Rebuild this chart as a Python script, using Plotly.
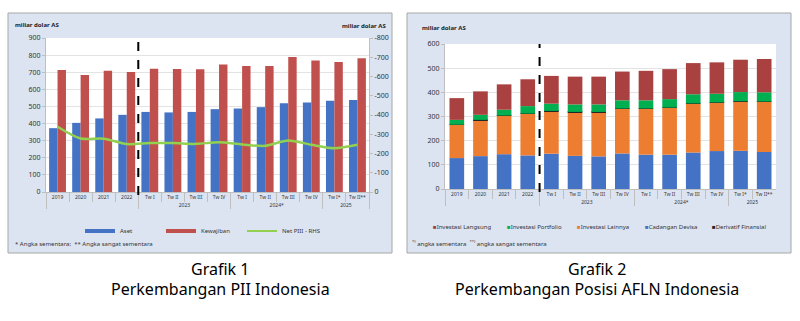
import plotly.graph_objects as go

# ---------------- data ----------------
groups = [" ", " ", " ", " ", "2023", "2023", "2023", "2023",
          "2024*", "2024*", "2024*", "2024*", "2025", "2025"]
periods = ["2019", "2020", "2021", "2022", "Tw I", "Tw II", "Tw III", "Tw IV",
           "Tw I", "Tw II", "Tw III", "Tw IV", "Tw I*", "Tw II**"]

# Grafik 1 (miliar dolar AS)
aset = [373, 404, 430, 451, 468, 465, 468, 484, 488, 496, 519, 523, 533, 537]
kewajiban = [713, 684, 708, 702, 721, 719, 717, 745, 737, 737, 789, 768, 760, 781]
net_pii = [-339, -278, -277, -249, -254, -254, -250, -258, -247, -240, -268, -245, -227, -245]

# Grafik 2 (miliar dolar AS) - components
cadangan_devisa = [128, 136, 144, 139, 146, 137, 135, 147, 142, 142, 151, 157, 158, 153]
investasi_lainnya = [137, 149, 159, 172, 175, 180, 182, 185, 190, 194, 202, 200, 204, 208]
derivatif_finansial = [1, 1, 1, 1, 2, 2, 2, 1, 1, 1, 1, 1, 1, 1]
investasi_portfolio = [20, 21, 24, 31, 30, 31, 31, 34, 34, 35, 38, 36, 38, 38]
investasi_langsung = [90, 97, 105, 111, 115, 115, 115, 119, 122, 124, 129, 130, 134, 138]

left_y_ticks = list(range(0, 1000, 100))
right_y_ticks = list(range(0, -900, -100))
right_y_text = ["0"] + ["-%d" % (-v) for v in right_y_ticks[1:]]
afln_y_ticks = list(range(0, 700, 100))
n_annual = 4  # dashed separator after annual observations

# ---------------- style ----------------
W, H = 800, 321
BLUE = "#4472C4"
RED = "#C0504D"
LGREEN = "#92D050"
DRED = "#A8413F"
GREEN = "#00B050"
ORANGE = "#ED7D31"
BLACK = "#262626"
PANEL = "#DCE4F2"
FONT = "Noto Sans"
TXT = "#333333"


def px(x):
    return x / W


def py(y):
    return 1 - y / H


x_mc = [groups, periods]

fig = go.Figure()

# ---- Grafik 1 ----
fig.add_trace(go.Bar(x=x_mc, y=aset, name="Aset", marker_color=BLUE,
                     width=0.365, offset=-0.365, showlegend=False,
                     xaxis="x", yaxis="y"))
fig.add_trace(go.Bar(x=x_mc, y=kewajiban, name="Kewajiban", marker_color=RED,
                     width=0.365, offset=0.0, showlegend=False,
                     xaxis="x", yaxis="y"))
fig.add_trace(go.Scatter(x=x_mc, y=net_pii, name="Net PIII - RHS", mode="lines",
                         line=dict(color=LGREEN, width=2.5, shape="spline", smoothing=0.8),
                         showlegend=False, xaxis="x", yaxis="y2"))
# legend entries (Excel-style line symbols)
for nm, col, w in [("Aset", BLUE, 4), ("Kewajiban", RED, 4), ("Net PIII - RHS", LGREEN, 2)]:
    fig.add_trace(go.Scatter(x=[None], y=[None], mode="lines", name=nm,
                             line=dict(color=col, width=w), legend="legend",
                             xaxis="x", yaxis="y", hoverinfo="skip"))

# ---- Grafik 2 (stacked via base) ----
stack = [
    ("Cadangan Devisa", cadangan_devisa, BLUE),
    ("Investasi Lainnya", investasi_lainnya, ORANGE),
    ("Derivatif Finansial", derivatif_finansial, BLACK),
    ("Investasi Portfolio", investasi_portfolio, GREEN),
    ("Investasi Langsung", investasi_langsung, DRED),
]
base = [0] * len(periods)
for nm, vals, col in stack:
    fig.add_trace(go.Bar(x=x_mc, y=vals, base=list(base), name=nm, marker_color=col,
                         width=0.62, offset=-0.31, showlegend=False,
                         xaxis="x3", yaxis="y3"))
    base = [b + v for b, v in zip(base, vals)]

axis_common = dict(linecolor="#BFBFBF", tickcolor="#BFBFBF", automargin=False)
xcat = dict(type="multicategory", showline=True, ticks="outside", ticklen=9,
            showdividers=True, dividercolor="#BFBFBF", dividerwidth=1, tickangle=0,
            tickfont=dict(family=FONT, size=5, color=TXT), showgrid=False,
            zeroline=False, **axis_common)

fig.update_layout(
    width=W, height=H,
    margin=dict(l=0, r=0, t=0, b=0),
    template="none",
    paper_bgcolor="white",
    plot_bgcolor="white",
    barmode="overlay",
    font=dict(family=FONT, color=TXT),
    xaxis=dict(domain=[px(46), px(369)], anchor="y", **xcat),
    yaxis=dict(domain=[py(192), py(38)], anchor="x", range=[0, 900],
               tickvals=left_y_ticks, showgrid=True, gridcolor="#E3E3E3",
               gridwidth=1, showline=True, ticks="outside", ticklen=3,
               zeroline=False, tickfont=dict(family=FONT, size=7, color=TXT),
               **axis_common),
    yaxis2=dict(overlaying="y", side="right", anchor="x", range=[0, -800],
                tickvals=right_y_ticks, ticktext=right_y_text, showgrid=False,
                showline=True, ticks="outside", ticklen=3, zeroline=False,
                tickfont=dict(family=FONT, size=7, color=TXT), **axis_common),
    xaxis3=dict(domain=[px(445), px(776)], anchor="y3", **xcat),
    yaxis3=dict(domain=[py(189), py(44)], anchor="x3", range=[0, 600],
                tickvals=afln_y_ticks, showgrid=True, gridcolor="#E3E3E3",
                showline=True, ticks="outside", ticklen=3, zeroline=False,
                tickfont=dict(family=FONT, size=7, color=TXT), **axis_common),
    legend=dict(orientation="h", x=px(80), y=py(231), xanchor="left", yanchor="middle",
                bgcolor="rgba(0,0,0,0)", font=dict(family=FONT, size=6, color=TXT),
                entrywidth=36, itemwidth=30, tracegroupgap=0),
    showlegend=True,
)

# panels and white plot areas
shapes = [
    dict(type="rect", xref="paper", yref="paper", x0=px(8), x1=px(392), y0=py(253), y1=py(13),
         fillcolor=PANEL, line=dict(color="#A6A6A6", width=1), layer="below"),
    dict(type="rect", xref="paper", yref="paper", x0=px(407), x1=px(791), y0=py(253), y1=py(13),
         fillcolor=PANEL, line=dict(color="#A6A6A6", width=1), layer="below"),
    dict(type="rect", xref="paper", yref="paper", x0=px(46), x1=px(369), y0=py(192), y1=py(38),
         fillcolor="white", line=dict(width=0), layer="below"),
    dict(type="rect", xref="paper", yref="paper", x0=px(445), x1=px(776), y0=py(189), y1=py(44),
         fillcolor="white", line=dict(width=0), layer="below"),
    dict(type="line", xref="x domain", yref="y domain", x0=n_annual / len(periods),
         x1=n_annual / len(periods), y0=-0.02, y1=1.0,
         line=dict(color="black", width=2, dash="dash")),
    dict(type="line", xref="x3 domain", yref="y3 domain", x0=n_annual / len(periods),
         x1=n_annual / len(periods), y0=-0.02, y1=1.0,
         line=dict(color="black", width=2, dash="dash")),
]
fig.update_layout(shapes=shapes)

ann = []


def add_text(x, y, text, size=6, xanchor="left", bold=False, color=TXT, family=FONT):
    t = "<b>%s</b>" % text if bold else text
    ann.append(dict(xref="paper", yref="paper", x=px(x), y=py(y), text=t, showarrow=False,
                    xanchor=xanchor, yanchor="middle",
                    font=dict(family=family, size=size, color=color)))


add_text(13, 25, "miliar dolar AS", size=6, bold=True, color="#222")
add_text(388, 26, "miliar dolar AS", size=6, bold=True, color="#222", xanchor="right")
add_text(420, 28, "miliar dolar AS", size=6, bold=True, color="#222")
add_text(13, 244, "* Angka sementara;  ** Angka sangat sementara", size=6)
add_text(410, 243, "<sup>*)</sup> angka sementara  <sup>**)</sup> angka sangat sementara", size=6)

# legend of Grafik 2
leg2 = [("Investasi Langsung", DRED, 431), ("Investasi Portfolio", GREEN, 505),
        ("Investasi Lainnya", ORANGE, 575), ("Cadangan Devisa", BLUE, 643),
        ("Derivatif Finansial", BLACK, 710)]
for nm, col, x in leg2:
    add_text(x, 227, '<span style="color:%s">■</span>%s' % (col, nm), size=6)

# captions
add_text(220, 269, "Grafik 1", size=16, xanchor="center", color="black")
add_text(220, 289, "Perkembangan PII Indonesia", size=16, xanchor="center", color="black")
add_text(597, 269, "Grafik 2", size=16, xanchor="center", color="black")
add_text(597, 289, "Perkembangan Posisi AFLN Indonesia", size=16, xanchor="center", color="black")

fig.update_layout(annotations=ann)

fig.write_html("out.html")
